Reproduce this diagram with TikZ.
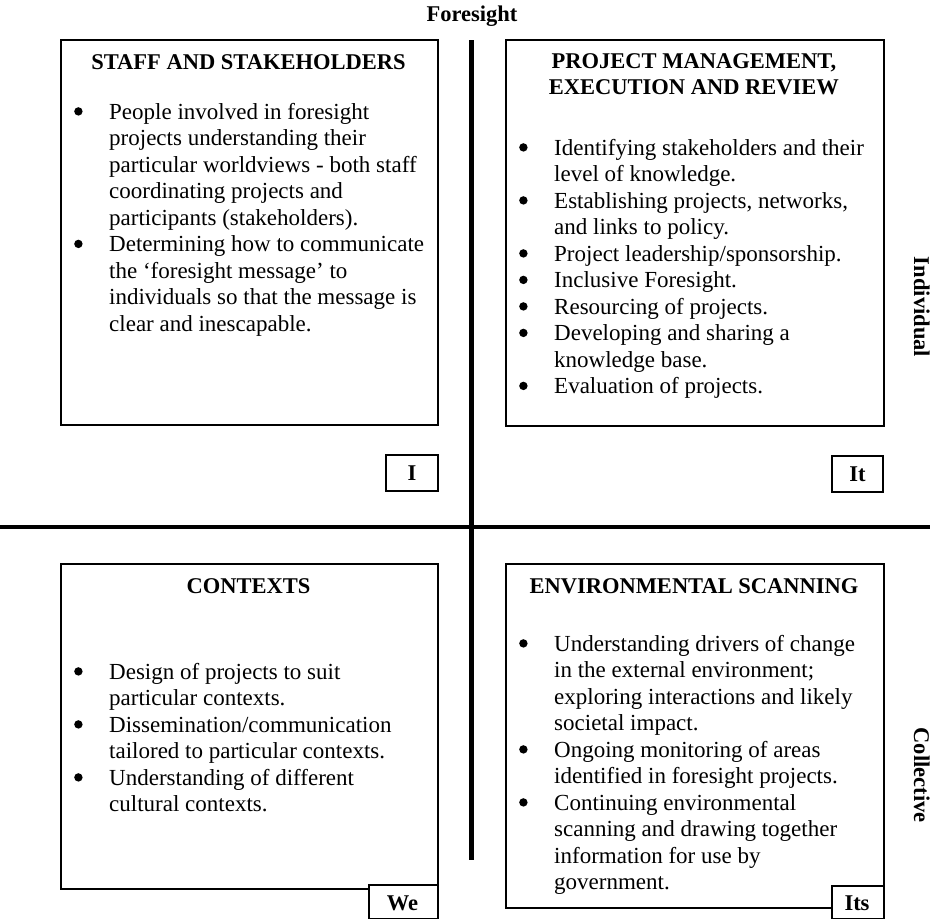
\documentclass[tikz,border=0pt]{standalone}
\usepackage{fontspec}
\setmainfont{Liberation Serif}
\newcommand\bodyfont{\fontsize{23}{26.5}\selectfont}
\newcommand\headfont{\fontsize{22.5}{26.5}\selectfont}
% list bullet: a filled dot sitting at mid x-height
\newcommand\blt{\tikz[baseline={(0pt,-7.6pt)}]\fill (0pt,0pt) circle (4.2pt);}
\begin{document}
\begin{tikzpicture}[x=1pt,y=-1pt,
  quad/.style={draw, line width=1.6pt, inner sep=0pt, anchor=north west},
  tagbox/.style={draw, fill=white, line width=1.6pt, inner sep=0pt, font=\bfseries\headfont},
  axis/.style={line width=#1},
  heading/.style={font=\bfseries\headfont, anchor=base, inner sep=0pt},
  body/.style={font=\bodyfont, anchor=base west, inner sep=0pt},
  side/.style={font=\bfseries\headfont, anchor=base, inner sep=0pt, rotate=-90}]
\useasboundingbox (0,0) rectangle (930,919);

% axes
\coordinate (vtop) at (471,40);
\coordinate (vbot) at (471,860);
\coordinate (hl) at (0,527);
\coordinate (hr) at (930,527);
\draw[axis=5pt] (vtop) -- (vbot);
\draw[axis=4pt] (hl) -- (hr);

\node[heading] (foresight) at (472,21) {Foresight};
\node[side] (individual) at (914,307) {Individual};
\node[side] (collective) at (914,775) {Collective};

% quadrant boxes
\node[quad, minimum width=377pt, minimum height=385pt] (tl) at (60,39) {};
\node[quad, minimum width=378pt, minimum height=386pt] (tr) at (505,39) {};
\node[quad, minimum width=377pt, minimum height=325pt] (bl) at (60,563) {};
\node[quad, minimum width=378pt, minimum height=344pt] (br) at (505,563) {};

% quadrant tags
\node[tagbox, minimum width=52pt, minimum height=36pt] (tagI) at (412,473) {I};
\node[tagbox, minimum width=51pt, minimum height=36pt] (tagIt) at (857.5,474) {It};
\node[tagbox, minimum width=69pt, minimum height=34pt, anchor=north west] (tagWe) at (368,884) {};
\node[font=\bfseries\headfont, anchor=base, inner sep=0pt] (weText) at (402.5,910) {We};
\node[tagbox, minimum width=52pt, minimum height=33pt, anchor=north west] (tagIts) at (831,885) {};
\node[font=\bfseries\headfont, anchor=base, inner sep=0pt] (itsText) at (857,910) {Its};

% headings
\node[heading] (tlHead) at (248.5,69) {STAFF AND STAKEHOLDERS};
\node[heading] (trHead) at (694,68) {\begin{tabular}[t]{@{}c@{}}PROJECT MANAGEMENT,\\EXECUTION AND REVIEW\end{tabular}};
\node[heading] (blHead) at (248.5,593) {CONTEXTS};
\node[heading] (brHead) at (694,593) {ENVIRONMENTAL SCANNING};

% bullet lists
\node[body] (tlList) at (74,119) {\begin{tabular}[t]{@{}p{35pt}@{}l@{}}
\blt & People involved in foresight\\
 & projects understanding their\\
 & particular worldviews - both staff\\
 & coordinating projects and\\
 & participants (stakeholders).\\
\blt & Determining how to communicate\\
 & the ‘foresight message’ to\\
 & individuals so that the message is\\
 & clear and inescapable.
\end{tabular}};

\node[body] (trList) at (519,155) {\begin{tabular}[t]{@{}p{35pt}@{}l@{}}
\blt & Identifying stakeholders and their\\
 & level of knowledge.\\
\blt & Establishing projects, networks,\\
 & and links to policy.\\
\blt & Project leadership/sponsorship.\\
\blt & Inclusive Foresight.\\
\blt & Resourcing of projects.\\
\blt & Developing and sharing a\\
 & knowledge base.\\
\blt & Evaluation of projects.
\end{tabular}};

\node[body] (blList) at (74,679) {\begin{tabular}[t]{@{}p{35pt}@{}l@{}}
\blt & Design of projects to suit\\
 & particular contexts.\\
\blt & Dissemination/communication\\
 & tailored to particular contexts.\\
\blt & Understanding of different\\
 & cultural contexts.
\end{tabular}};

\node[body] (brList) at (519,651) {\begin{tabular}[t]{@{}p{35pt}@{}l@{}}
\blt & Understanding drivers of change\\
 & in the external environment;\\
 & exploring interactions and likely\\
 & societal impact.\\
\blt & Ongoing monitoring of areas\\
 & identified in foresight projects.\\
\blt & Continuing environmental\\
 & scanning and drawing together\\
 & information for use by\\
 & government.
\end{tabular}};
\end{tikzpicture}
\end{document}
